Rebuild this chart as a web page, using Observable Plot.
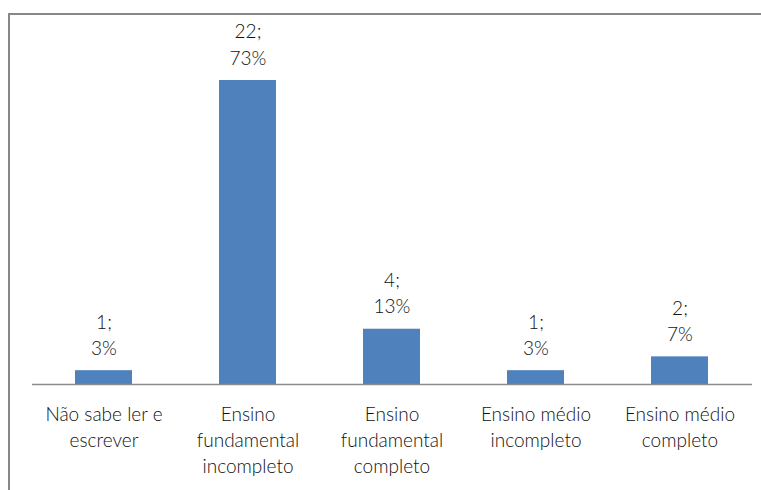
<!DOCTYPE html>
<html>
<head>
<meta charset="utf-8">
<script src="https://cdn.jsdelivr.net/npm/d3@7"></script>
<script src="https://cdn.jsdelivr.net/npm/@observablehq/plot@0.6"></script>
<style>
  html, body { margin: 0; padding: 0; background: #fff; overflow: hidden; }
  #wrap { position: relative; width: 761px; height: 490px; overflow: hidden; }
  #border { position: absolute; left: 8px; top: 13px; width: 900px; height: 700px;
            border-top: 2px solid #878787; border-left: 2px solid #878787; }
  #chart { position: absolute; left: 0; top: 0; }
</style>
</head>
<body>
<div id="wrap"><div id="border"></div><div id="chart"></div></div>
<script>
const categories = [
  "Não sabe ler e escrever",
  "Ensino fundamental incompleto",
  "Ensino fundamental completo",
  "Ensino médio incompleto",
  "Ensino médio completo"
];
const tickLabels = [
  "Não sabe ler e\nescrever",
  "Ensino\nfundamental\nincompleto",
  "Ensino\nfundamental\ncompleto",
  "Ensino médio\nincompleto",
  "Ensino médio\ncompleto"
];
const counts = [1, 22, 4, 1, 2];
const percents = ["3%", "73%", "13%", "3%", "7%"];

const data = categories.map((c, i) => ({
  cat: c,
  value: counts[i],
  label: `${counts[i]};\n${percents[i]}`
}));
const tickMap = new Map(categories.map((c, i) => [c, tickLabels[i]]));

const chart = Plot.plot({
  width: 761,
  height: 490,
  marginLeft: 32,
  marginRight: 9,
  marginTop: 80,
  marginBottom: 106,
  style: { fontFamily: "Lato, 'Open Sans', sans-serif", fontSize: "19px", color: "#111", background: "transparent" },
  x: { domain: categories, paddingInner: 0.604, paddingOuter: 0.302 },
  y: { domain: [0, 22], axis: null },
  marks: [
    Plot.barY(data, { x: "cat", y: "value", fill: "#4F81BD" }),
    Plot.ruleY([0], { stroke: "#8c8c8c", strokeWidth: 1.5 }),
    Plot.text(data, { x: "cat", y: "value", text: "label", lineAnchor: "bottom", dy: -16, lineHeight: 1.37, fontSize: 19, fontWeight: 300, fill: "#111" }),
    Plot.axisX({ tickSize: 0, tickPadding: 18, tickFormat: d => tickMap.get(d), lineHeight: 1.37, fontSize: 19, fontWeight: 300, fill: "#111", label: null })
  ]
});
document.getElementById("chart").appendChild(chart);
</script>
</body>
</html>
